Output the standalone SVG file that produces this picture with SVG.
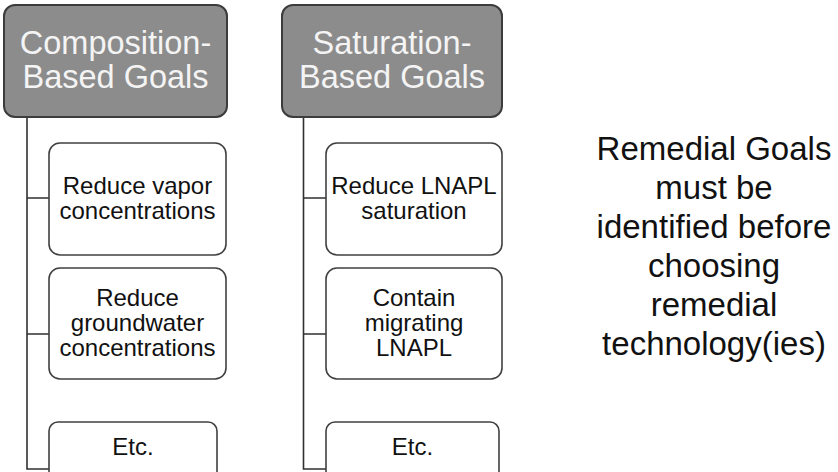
<svg xmlns="http://www.w3.org/2000/svg" width="838" height="472" viewBox="0 0 838 472">
<style>
.hdr{fill:#8c8c8c;stroke:#3c3c3c;stroke-width:2}
.box{fill:#ffffff;stroke:#404040;stroke-width:1.6}
.conn{fill:none;stroke:#303030;stroke-width:1.6}
.ht{font-family:"Liberation Sans",Arial,sans-serif;font-size:32.5px;fill:#f4f4f4;text-anchor:middle}
.bt{font-family:"Liberation Sans",Arial,sans-serif;font-size:24px;fill:#111111;text-anchor:middle}
.nt{font-family:"Liberation Sans",Arial,sans-serif;font-size:33px;fill:#111111;text-anchor:middle}
</style>
<rect width="838" height="472" fill="#ffffff"/>
<g id="connectors">
<path class="conn" d="M27,117 V469 H49 M27,198 H49 M27,334 H49"/>
<path class="conn" d="M303.5,117 V469 H326 M303.5,198 H326 M303.5,334 H326"/>
</g>
<g id="composition-header">
<rect class="hdr" x="4" y="5" width="223" height="112" rx="11"/>
<text class="ht" x="115.5" y="53.5">Composition-</text>
<text class="ht" x="115.5" y="88">Based Goals</text>
</g>
<g id="reduce-vapor">
<rect class="box" x="49" y="143" width="177" height="112" rx="11"/>
<text class="bt" x="137.5" y="193.5">Reduce vapor</text>
<text class="bt" x="137.5" y="218.5">concentrations</text>
</g>
<g id="reduce-groundwater">
<rect class="box" x="49" y="268" width="177" height="111" rx="11"/>
<text class="bt" x="137.5" y="306">Reduce</text>
<text class="bt" x="137.5" y="331">groundwater</text>
<text class="bt" x="137.5" y="356">concentrations</text>
</g>
<g id="etc-left">
<rect class="box" x="49" y="422" width="168" height="70" rx="9"/>
<text class="bt" x="133" y="455">Etc.</text>
</g>
<g id="saturation-header">
<rect class="hdr" x="282" y="5" width="220" height="112" rx="11"/>
<text class="ht" x="392" y="53.5">Saturation-</text>
<text class="ht" x="392" y="88">Based Goals</text>
</g>
<g id="reduce-lnapl">
<rect class="box" x="326" y="143" width="176" height="112" rx="11"/>
<text class="bt" x="414" y="193.5">Reduce LNAPL</text>
<text class="bt" x="414" y="218.5">saturation</text>
</g>
<g id="contain-lnapl">
<rect class="box" x="326" y="268" width="176" height="111" rx="11"/>
<text class="bt" x="414" y="306">Contain</text>
<text class="bt" x="414" y="331">migrating</text>
<text class="bt" x="414" y="356">LNAPL</text>
</g>
<g id="etc-right">
<rect class="box" x="326" y="422" width="173" height="70" rx="9"/>
<text class="bt" x="412.5" y="455">Etc.</text>
</g>
<g id="note">
<text class="nt" x="714" y="160">Remedial Goals</text>
<text class="nt" x="714" y="199">must be</text>
<text class="nt" x="714" y="238">identified before</text>
<text class="nt" x="714" y="277">choosing</text>
<text class="nt" x="714" y="316">remedial</text>
<text class="nt" x="714" y="355">technology(ies)</text>
</g>
</svg>
